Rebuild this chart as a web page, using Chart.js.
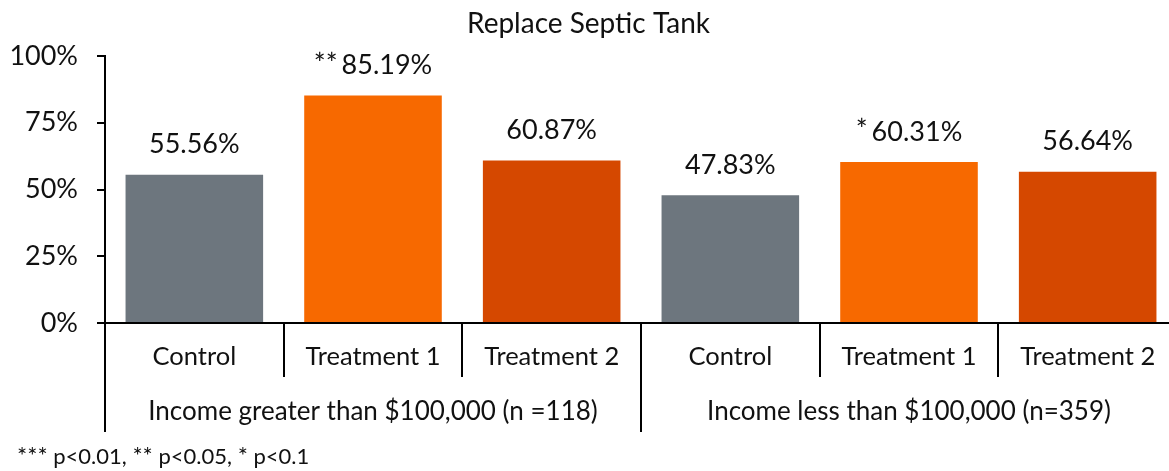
<!DOCTYPE html>
<html><head><meta charset="utf-8">
<script src="https://cdn.jsdelivr.net/npm/chart.js@4.4.1/dist/chart.umd.min.js"></script>
<style>
html,body{margin:0;padding:0;overflow:hidden;background:#fff;width:1169px;height:471px}
#wrap{position:absolute;left:0;top:0;width:1180px;height:471px}
</style>
</head><body><div id="wrap"><canvas id="c" width="1180" height="471"></canvas></div>
<script>
const chartTitle = "Replace Septic Tank";
const categories = ["Control","Treatment 1","Treatment 2","Control","Treatment 1","Treatment 2"];
const groups = ["Income greater than $100,000 (n =118)","Income less than $100,000 (n=359)"];
const groupSizes = [3,3];
const values = [55.56,85.19,60.87,47.83,60.31,56.64];
const significance = ["","**","","","*",""];
const yTicks = [0,25,50,75,100];
const footnoteParts = [["***"," p<0.01, "],["**"," p<0.05, "],["*"," p<0.1"]];

const barColors = ["#6D767E","#F76900","#D54800","#6D767E","#F76900","#D54800"];
const FONT = "Lato";
const TXT = "#111";

const deco = {
  id:'deco',
  afterDraw(chart){
    const ctx = chart.ctx, x = chart.scales.x, a = chart.chartArea;
    ctx.save();
    ctx.strokeStyle = '#000'; ctx.lineWidth = 2;
    const n = categories.length;
    const step = x.getPixelForValue(1) - x.getPixelForValue(0);
    const edges = new Set([0]); let acc = 0;
    groupSizes.forEach(g => { acc += g; edges.add(acc); });
    for (let i = 0; i <= n; i++) {
      const px = Math.round(x.getPixelForValue(0) + (i - 0.5) * step);
      const bot = edges.has(i) ? a.bottom + 109 : a.bottom + 54;
      ctx.beginPath(); ctx.moveTo(px, a.bottom); ctx.lineTo(px, bot); ctx.stroke();
    }
    // value labels
    const meta = chart.getDatasetMeta(0);
    ctx.fillStyle = TXT; ctx.textBaseline = 'middle';
    meta.data.forEach((bar, i) => {
      const main = values[i].toFixed(2) + '%';
      const star = significance[i];
      ctx.font = `27px ${FONT}`;
      const wm = ctx.measureText(main).width;
      ctx.font = `28px ${FONT}`;
      const ws = star ? ctx.measureText(star).width + 4 : 0;
      const left = bar.x - (wm + ws) / 2;
      const cy = bar.y - 30;
      ctx.textAlign = 'left';
      if (star) { ctx.font = `28px ${FONT}`; ctx.fillText(star, left, cy - 1); }
      ctx.font = `27px ${FONT}`;
      ctx.fillText(main, left + ws, cy);
    });
    // footnote
    let fx = 17; const fy = 457;
    footnoteParts.forEach(([s, t]) => {
      ctx.font = `24px ${FONT}`; ctx.fillText(s, fx, fy - 1); fx += ctx.measureText(s).width;
      ctx.font = `22px ${FONT}`; ctx.fillText(t, fx, fy); fx += ctx.measureText(t).width;
    });
    ctx.restore();
  }
};

new Chart(document.getElementById('c'), {
  type: 'bar',
  data: {
    labels: categories,
    datasets: [{ data: values, backgroundColor: barColors, barPercentage: 0.77, categoryPercentage: 1 }]
  },
  options: {
    responsive: false, animation: false,
    layout: { padding: { left: 0, right: 3, top: 0, bottom: 39 } },
    plugins: {
      legend: { display: false }, tooltip: { enabled: false },
      title: { display: true, text: chartTitle, color: TXT,
        font: { family: FONT, size: 28, weight: 'normal' }, padding: { top: 7, bottom: 15.4 } }
    },
    scales: {
      x: {
        type: 'category', offset: true,
        grid: { display: false, drawTicks: false },
        border: { color: '#000', width: 2 },
        ticks: { font: { family: FONT, size: 25.5 }, color: TXT, padding: 18, maxRotation: 0, autoSkip: false },
        afterFit(s) { s.height = 54; }
      },
      x2: {
        type: 'category', labels: groups, offset: true, position: 'bottom',
        grid: { display: false, drawTicks: false },
        border: { display: false },
        ticks: { font: { family: FONT, size: 26 }, color: TXT, padding: 19, maxRotation: 0, autoSkip: false },
        afterFit(s) { s.height = 55; }
      },
      y: {
        min: 0, max: 100,
        afterBuildTicks(s) { s.ticks = yTicks.map(v => ({ value: v })); },
        grid: { display: true, drawOnChartArea: false, drawTicks: true, tickLength: 8, color: '#000', lineWidth: 2 },
        border: { color: '#000', width: 2 },
        ticks: { font: { family: FONT, size: 27 }, color: TXT, padding: 19, callback: v => v + '%' },
        afterFit(s) { s.width = 105; }
      }
    }
  },
  plugins: [deco]
});
</script></body></html>
